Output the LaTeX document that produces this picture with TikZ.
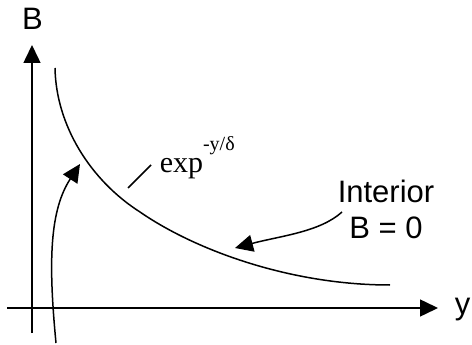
\documentclass[tikz,border=0pt]{standalone}
\usepackage{fontspec}
\setmainfont{Liberation Sans}
\newfontfamily\timesfont{Liberation Serif}
\usetikzlibrary{arrows.meta}
\begin{document}
\begin{tikzpicture}[
  x=1pt, y=-1pt,
  line width=1.5pt,
  arrow/.style={-{Triangle[length=18pt,width=17pt]}},
  txt/.style={inner sep=0pt, font=\fontsize{31}{36}\selectfont}
]
\useasboundingbox (0,0) rectangle (472,345);
% axes
\coordinate (ylow) at (32,333);
\coordinate (ytop) at (32,45);
\coordinate (xleft) at (7,308);
\coordinate (xright) at (438,308);
\draw[arrow] (ylow) -- (ytop);
\draw[arrow] (xleft) -- (xright);
\node[txt, anchor=base] (bname) at (32.5,30) {B};
\node[txt, anchor=base west] (yname) at (454,314) {y};
% decaying field
\coordinate (ctop) at (55,68);
\coordinate (cmid) at (140,212);
\coordinate (cend) at (390,285);
\draw (ctop) .. controls (56,125) and (90,180) .. (cmid)
             .. controls (195,250) and (290,285) .. (cend);
\coordinate (ta) at (128,188);
\coordinate (tb) at (151,165);
\draw (ta) -- (tb);
\node[txt, font=\timesfont\fontsize{30}{36}\selectfont, anchor=base west] (explabel) at (159,172) {exp\raisebox{22pt}{\fontsize{20}{20}\selectfont -y/δ}};
% pointers
\node[txt, align=center] (interior) at (386,209.3) {Interior\\B = 0};
\coordinate (lstart) at (56,343);
\coordinate (ltip) at (80,164);
\draw[arrow] (lstart) .. controls (48,260) and (50,210) .. (ltip);
\coordinate (istart) at (342,212);
\coordinate (itip) at (235,248);
\draw[arrow] (istart) .. controls (320,232) and (280,236) .. (itip);
\end{tikzpicture}
\end{document}
